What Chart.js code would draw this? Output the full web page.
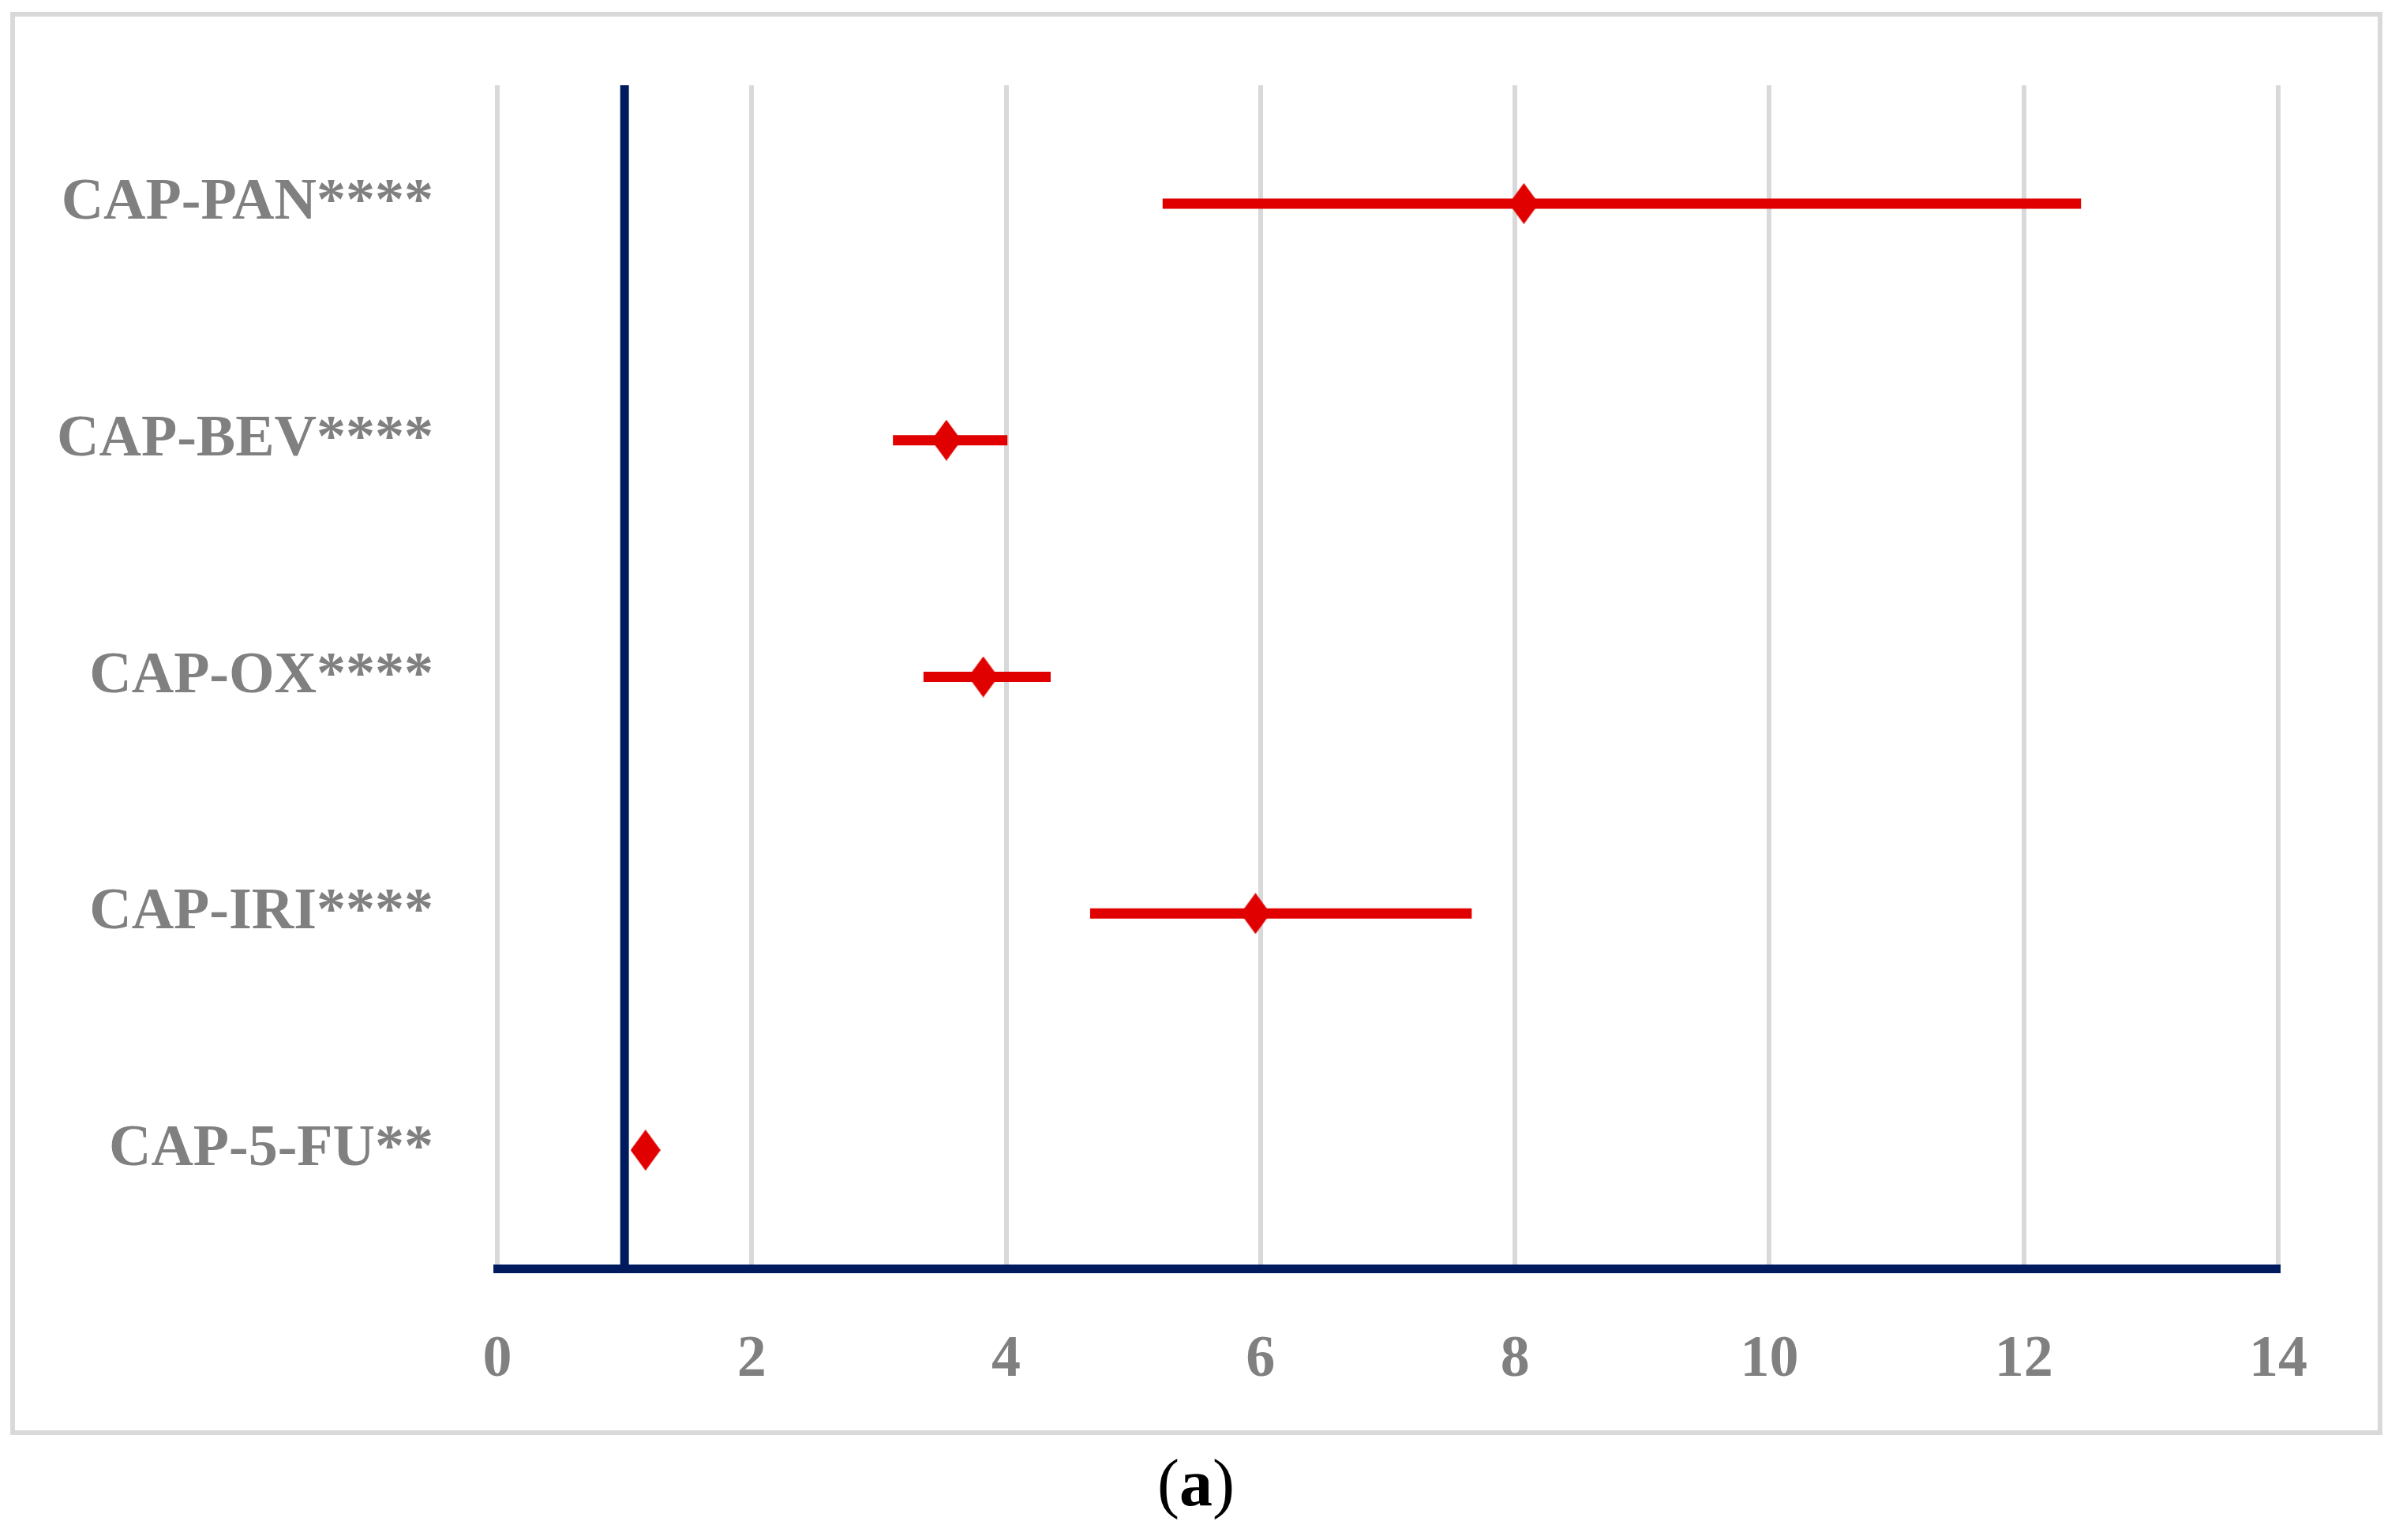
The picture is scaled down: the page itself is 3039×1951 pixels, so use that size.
<!DOCTYPE html>
<html>
<head>
<meta charset="utf-8">
<script src="https://cdn.jsdelivr.net/npm/chart.js@4"></script>
<style>
  html, body { margin: 0; padding: 0; background: #fff; }
  #frame { position: absolute; left: 13px; top: 15px; width: 3005px; height: 1803px; border: 6px solid #d9d9d9; box-sizing: border-box; }
  #wrap { position: absolute; left: 0; top: 0; width: 3039px; height: 1951px; }
  #caption { position: absolute; left: 0; width: 3030px; top: 1835px; text-align: center; font-family: 'Liberation Serif', serif; font-size: 84px; line-height: 88px; color: #000; }
</style>
</head>
<body>
<div id="frame"></div>
<div id="wrap"><canvas id="myChart" width="3039" height="1951"></canvas></div>
<div id="caption">(<b>a</b>)</div>
<script>
const categories = ['CAP-PAN****', 'CAP-BEV****', 'CAP-OX****', 'CAP-IRI****', 'CAP-5-FU**']
const oddsRatio = [8.07, 3.53, 3.82, 5.96, 1.165]
const ciLow = [5.23, 3.11, 3.35, 4.66, 1.09]
const ciHigh = [12.45, 4.01, 4.35, 7.66, 1.24]
const xTicks = [0, 2, 4, 6, 8, 10, 12, 14]
const refValue = 1

const red = '#e00000'
const navy = '#001a5e'
const grey = '#808080'
const labelFont = { family: "'Liberation Serif', serif", size: 74, weight: 'bold' }

// diamond marker, a bit taller than wide like the original
const diamond = document.createElement('canvas')
diamond.width = 38
diamond.height = 52
const dctx = diamond.getContext('2d')
dctx.fillStyle = red
dctx.beginPath()
dctx.moveTo(19, 0)
dctx.lineTo(38, 26)
dctx.lineTo(19, 52)
dctx.lineTo(0, 26)
dctx.closePath()
dctx.fill()

const refLine = {
    id: 'refLine',
    afterDatasetsDraw(chart) {
        const { ctx, chartArea, scales } = chart
        const px = scales.x.getPixelForValue(refValue)
        ctx.save()
        ctx.strokeStyle = navy
        ctx.lineWidth = 11
        ctx.beginPath()
        ctx.moveTo(px, chartArea.top)
        ctx.lineTo(px, chartArea.bottom)
        ctx.stroke()
        ctx.restore()
    }
}

const pointSet = {
    data: categories.map((c, i) => ({ x: oddsRatio[i], y: c })),
    showLine: false,
    pointStyle: diamond,
    pointRadius: 25,
    pointBackgroundColor: red,
    pointBorderWidth: 0
}

const ciSets = categories.map((c, i) => ({
    data: [{ x: ciLow[i], y: c }, { x: ciHigh[i], y: c }],
    showLine: true,
    borderColor: red,
    borderWidth: 13,
    borderCapStyle: 'butt',
    pointRadius: 0
}))

let ctx = document.getElementById('myChart').getContext('2d')
let myChart = new Chart(ctx, {
    type: 'line',
    data: { datasets: [pointSet, ...ciSets] },
    plugins: [refLine],
    options: {
        responsive: false,
        animation: false,
        devicePixelRatio: 1,
        layout: { padding: { top: 108, right: 153, left: 0, bottom: 0 } },
        plugins: { legend: { display: false }, tooltip: { enabled: false } },
        scales: {
            x: {
                type: 'linear',
                min: xTicks[0],
                max: xTicks[xTicks.length - 1],
                afterBuildTicks: s => { s.ticks = xTicks.map(v => ({ value: v })) },
                afterFit: s => { s.height = 344; s.paddingLeft = 0; s.paddingRight = 0 },
                grid: { color: '#d9d9d9', lineWidth: 6, drawTicks: false },
                border: { display: true, color: navy, width: 11 },
                ticks: { color: grey, font: labelFont, padding: 72 }
            },
            y: {
                type: 'category',
                labels: categories,
                offset: true,
                afterFit: s => { s.width = 630; s.paddingTop = 0; s.paddingBottom = 0 },
                grid: { display: false, drawTicks: false },
                border: { display: false },
                ticks: { color: grey, font: labelFont, padding: 81 }
            }
        }
    }
})
</script>
</body>
</html>
